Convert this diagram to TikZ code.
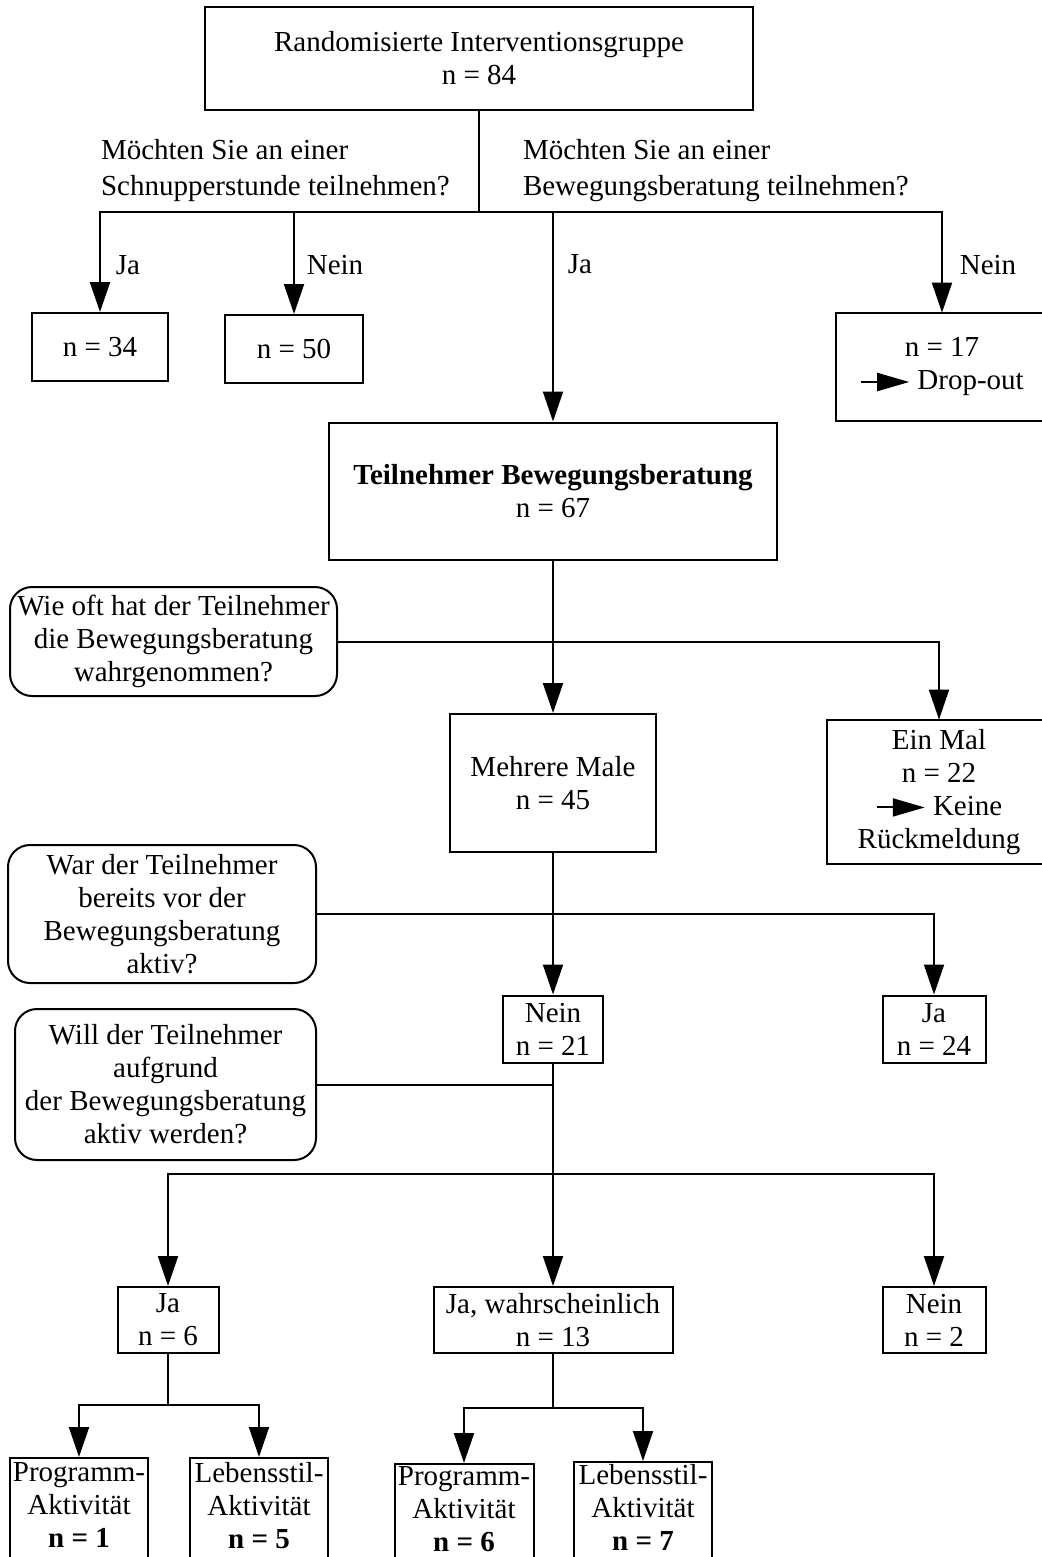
\documentclass[tikz,border=0pt]{standalone}
\usepackage{fontspec}
\setmainfont{Liberation Serif}
\usetikzlibrary{arrows.meta}
\newcommand{\minipfeil}{\tikz[baseline=-0.6ex]\draw[line width=1pt,-{Triangle[length=16pt,width=9pt]}] (0pt,0pt) -- (24pt,0pt);}

\begin{document}
\begin{tikzpicture}[x=0.5pt,y=-0.5pt,line width=1pt,
    font=\fontsize{14.5}{16.5}\selectfont,
    kasten/.style={draw,align=center,inner sep=0pt},
    frage/.style={kasten,rounded corners=11pt},
    pfeil/.style={-{Triangle[length=15pt,width=10pt]}}]
    \useasboundingbox (0,0) rectangle (1042,1557);
    \clip (0,0) rectangle (1042,1557);

    \node[kasten,minimum width=274pt,minimum height=51.5pt] (gruppe) at (479,58.5) {Randomisierte Interventionsgruppe\\n = 84};
    \node[anchor=west,align=left,inner sep=0pt,font=\fontsize{14.5}{18}\selectfont] (schnupperq) at (100,171) {Möchten Sie an einer\\Schnupperstunde teilnehmen?};
    \node[anchor=west,align=left,inner sep=0pt,font=\fontsize{14.5}{18}\selectfont] (beratungq) at (522,171) {Möchten Sie an einer\\Bewegungsberatung teilnehmen?};
    \coordinate (g1) at (479,212);

    \node[kasten,minimum width=68pt,minimum height=34pt] (n34) at (100,347) {n = 34};
    \node[kasten,minimum width=69pt,minimum height=34pt] (n50) at (294,349) {n = 50};
    \node[kasten,minimum width=106pt,minimum height=54pt] (n17) at (942,367) {n = 17\\\minipfeil\ Drop-out};
    \node (ja1) at (128,265) {Ja};
    \node (nein1) at (335,265) {Nein};
    \node (ja2) at (580,264) {Ja};
    \node (nein2l) at (988,265) {Nein};

    \node[kasten,minimum width=224pt,minimum height=68.5pt] (teiln) at (553,491) {\textbf{Teilnehmer Bewegungsberatung}\\n = 67};
    \node[frage,minimum width=163.5pt,minimum height=54.5pt] (wieoft) at (173.5,641.5) {Wie oft hat der Teilnehmer\\die Bewegungsberatung\\wahrgenommen?};
    \coordinate (g2) at (553,642);
    \node[kasten,minimum width=103pt,minimum height=69pt] (mehrere) at (553,783) {Mehrere Male\\n = 45};
    \node[kasten,minimum width=112pt,minimum height=72pt] (einmal) at (939,792) {Ein Mal\\n = 22\\\minipfeil\ Keine\\Rückmeldung};

    \node[frage,minimum width=154pt,minimum height=69pt] (warq) at (162,914) {War der Teilnehmer\\bereits vor der\\Bewegungsberatung\\aktiv?};
    \node[kasten,minimum width=50pt,minimum height=33.5pt] (nein21) at (553,1029) {Nein\\n = 21};
    \node[kasten,minimum width=51.5pt,minimum height=33.5pt] (ja24) at (934,1029) {Ja\\n = 24};

    \node[frage,minimum width=150.5pt,minimum height=75.5pt] (willq) at (165.5,1084.5) {Will der Teilnehmer\\aufgrund\\der Bewegungsberatung\\aktiv werden?};
    \coordinate (g3) at (553,1174);
    \node[kasten,minimum width=50.5pt,minimum height=33pt] (ja6) at (168,1320) {Ja\\n = 6};
    \node[kasten,minimum width=119.5pt,minimum height=33pt] (wahrsch) at (553,1320) {Ja, wahrscheinlich\\n = 13};
    \node[kasten,minimum width=51.5pt,minimum height=33pt] (nein2) at (934,1320) {Nein\\n = 2};

    \coordinate (g4) at (168,1405);
    \coordinate (g5) at (553,1408);
    \node[kasten,anchor=north,minimum width=69pt,minimum height=58pt,text depth=11pt] (prog1) at (79,1457) {Programm-\\Aktivität\\\textbf{n = 1}};
    \node[kasten,anchor=north,minimum width=69pt,minimum height=58pt,text depth=11pt] (leb5) at (259,1457) {Lebensstil-\\Aktivität\\\textbf{n = 5}};
    \node[kasten,anchor=north,minimum width=69.5pt,minimum height=58pt,text depth=13pt] (prog6) at (464,1463) {Programm-\\Aktivität\\\textbf{n = 6}};
    \node[kasten,anchor=north,minimum width=69pt,minimum height=58pt,text depth=13pt] (leb7) at (643,1461) {Lebensstil-\\Aktivität\\\textbf{n = 7}};

    \draw (gruppe) -- (g1);
    \draw[pfeil] (g1) -| (n34);
    \draw[pfeil] (g1) -| (n50);
    \draw[pfeil] (g1) -| (teiln);
    \draw[pfeil] (g1) -| (n17);

    \draw[pfeil] (teiln) -- (mehrere);
    \draw (wieoft) -- (wieoft -| teiln);
    \draw[pfeil] (g2) -| (einmal);

    \draw[pfeil] (mehrere) -- (nein21);
    \draw[pfeil] (warq) -| (ja24);

    \draw (willq) -- (willq -| nein21);
    \draw[pfeil] (nein21) -- (wahrsch);
    \draw[pfeil] (g3) -| (ja6);
    \draw[pfeil] (g3) -| (nein2);

    \draw (ja6) -- (g4);
    \draw[pfeil] (g4) -| (prog1);
    \draw[pfeil] (g4) -| (leb5);
    \draw (wahrsch) -- (g5);
    \draw[pfeil] (g5) -| (prog6);
    \draw[pfeil] (g5) -| (leb7);
\end{tikzpicture}
\end{document}
